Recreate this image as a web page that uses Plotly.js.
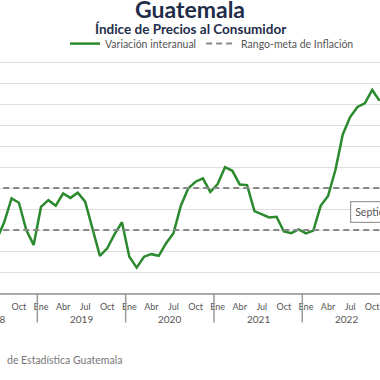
<!DOCTYPE html>
<html><head><meta charset="utf-8">
<script src="https://cdn.plot.ly/plotly-3.0.1.min.js"></script>
<style>html,body{margin:0;padding:0;background:#fff}#chart{width:380px;height:380px}</style>
</head><body><div id="chart"></div>
<script>
// Months from Jul 2018 to Nov 2022
const months = ['2018-07','2018-08','2018-09','2018-10','2018-11','2018-12',
 '2019-01','2019-02','2019-03','2019-04','2019-05','2019-06','2019-07','2019-08','2019-09','2019-10','2019-11','2019-12',
 '2020-01','2020-02','2020-03','2020-04','2020-05','2020-06','2020-07','2020-08','2020-09','2020-10','2020-11','2020-12',
 '2021-01','2021-02','2021-03','2021-04','2021-05','2021-06','2021-07','2021-08','2021-09','2021-10','2021-11','2021-12',
 '2022-01','2022-02','2022-03','2022-04','2022-05','2022-06','2022-07','2022-08','2022-09','2022-10','2022-11'];
const inflation = [2.56,3.37,4.51,4.30,3.00,2.29,
 4.10,4.42,4.16,4.74,4.53,4.78,4.35,2.99,1.77,2.13,2.80,3.37,
 1.73,1.21,1.73,1.85,1.77,2.37,2.85,4.16,4.98,5.30,5.46,4.82,
 5.19,5.99,5.82,5.17,5.14,3.90,3.76,3.60,3.63,2.93,2.85,3.03,
 2.84,2.97,4.15,4.62,5.86,7.55,8.38,8.86,9.03,9.67,9.15];
const targetRange = [3, 5];
const monthNames = ['Ene','Feb','Mar','Abr','May','Jun','Jul','Ago','Sep','Oct','Nov','Dic'];
const tickMonthNums = [1,4,7,10];
const years = [2018,2019,2020,2021,2022];
const seriesName = 'Variación interanual';
const targetName = 'Rango-meta de Inflación';
const titleText = 'Guatemala';
const subtitleText = 'Índice de Precios al Consumidor';
const sourceText = 'de Estadística Guatemala';
const calloutText = 'Septiembre';

const xIdx = months.map((m,i)=>i);
const xRange = [0.43, 52.06];
const tickvals = [], ticktext = [];
months.forEach((m,i)=>{const mm = +m.slice(5); if(tickMonthNums.includes(mm)){tickvals.push(i); ticktext.push(monthNames[mm-1]);}});
const firstYear = +months[0].slice(0,4), firstMonth = +months[0].slice(5);
const janIndex = y => (y-firstYear)*12 - (firstMonth-1);
const toPaper = v => (v - xRange[0])/(xRange[1]-xRange[0]);

// target range dashed lines (two segments separated by null)
const tx = [], ty = [];
targetRange.forEach((v,k)=>{ if(k) {tx.push(null); ty.push(null);} tx.push(-10, 60); ty.push(v, v); });

const topM = 60.95, botM = 86.5;
const plotH = 380 - topM - botM;
const pyToPaper = py => (380 - botM - py)/plotH;

const shapes = [], annotations = [];
years.forEach(y=>{
  const j = janIndex(y);
  if (y !== years[0]) shapes.push({type:'line', xref:'x', yref:'paper', x0:j-0.5, x1:j-0.5, y0:0, y1:pyToPaper(323), line:{color:'#9a9a9a', width:1.5}});
  annotations.push({xref:'paper', yref:'paper', x:toPaper(j+5.5), y:pyToPaper(320), text:String(y), showarrow:false, xanchor:'center', yanchor:'middle', font:{family:'Lato, sans-serif', size:10, color:'#555'}});
});
annotations.push({xref:'paper', yref:'paper', x:0.5, y:pyToPaper(28.5), text:'<b>'+subtitleText+'</b>', showarrow:false, xanchor:'center', yanchor:'middle', font:{family:'Lato, sans-serif', size:13.5, color:'#1f2d4a'}});
annotations.push({xref:'paper', yref:'paper', x:5/380, y:pyToPaper(361), text:sourceText, showarrow:false, xanchor:'left', yanchor:'middle', font:{family:'Lato, sans-serif', size:10.5, color:'#777'}});
annotations.push({xref:'paper', yref:'paper', x:350/380, y:pyToPaper(212.5), text:calloutText, showarrow:false, xanchor:'left', yanchor:'middle', bgcolor:'#fff', bordercolor:'#999', borderwidth:1.2, borderpad:4, font:{family:'Lato, sans-serif', size:10.5, color:'#555'}});

const data = [
  {x:xIdx, y:inflation, type:'scatter', mode:'lines', name:seriesName, line:{color:'#2b8a2e', width:2.5}, hoverinfo:'skip'},
  {x:tx, y:ty, type:'scatter', mode:'lines', name:targetName, line:{color:'#888', width:2, dash:'6px,4px'}, hoverinfo:'skip'}
];
const layout = {
  width:380, height:380,
  margin:{l:0, r:0, t:topM, b:botM, pad:0},
  paper_bgcolor:'#fff', plot_bgcolor:'#fff',
  title:{text:'<b>'+titleText+'</b>', x:0.5, xanchor:'center', xref:'paper', yref:'container', y:1-2/380, yanchor:'top', font:{family:'Lato, sans-serif', size:23, color:'#1f2d4a'}},
  showlegend:true,
  legend:{orientation:'h', x:212/380, xanchor:'center', y:pyToPaper(43.5), yanchor:'middle', font:{family:'Lato, sans-serif', size:10.5, color:'#555'}, itemwidth:30, traceorder:'normal', bgcolor:'rgba(0,0,0,0)'},
  xaxis:{range:xRange, tickmode:'array', tickvals:tickvals, ticktext:ticktext, showgrid:false, zeroline:false, showline:true, linecolor:'#aaa', linewidth:2, ticks:'', ticklabelstandoff:4, ticklabeloverflow:'allow', tickfont:{family:'Lato, sans-serif', size:9, color:'#555'}, fixedrange:true},
  yaxis:{range:[0,11.05], dtick:1, showgrid:true, gridcolor:'#dedede', gridwidth:1, zeroline:false, showticklabels:false, ticks:'', fixedrange:true},
  shapes:shapes, annotations:annotations
};
Plotly.newPlot('chart', data, layout, {displayModeBar:false, staticPlot:true});
</script></body></html>
